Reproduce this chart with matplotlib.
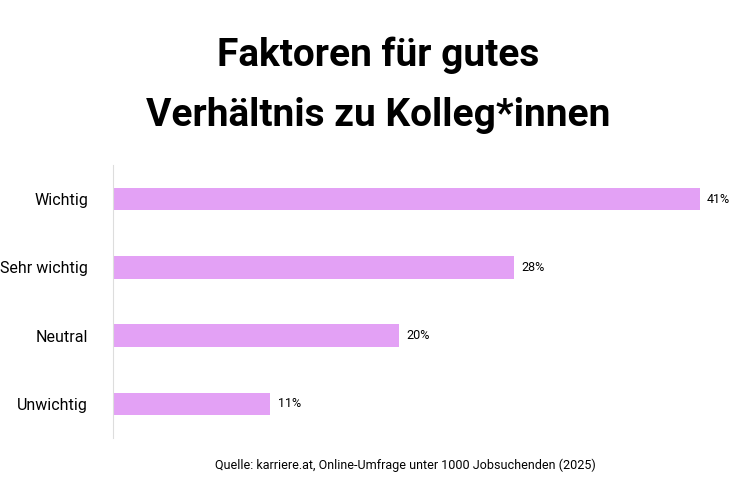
import matplotlib
matplotlib.use("Agg")
import matplotlib.pyplot as plt
from matplotlib import font_manager

names = {f.name for f in font_manager.fontManager.ttflist}
fam = "Liberation Sans Narrow" if "Liberation Sans Narrow" in names else "Roboto"

categories = ["Wichtig", "Sehr wichtig", "Neutral", "Unwichtig"]
values = [41, 28, 20, 11]
labels = ["41%", "28%", "20%", "11%"]

fig = plt.figure(figsize=(7.56, 4.98), dpi=100)
ax = fig.add_axes([113/756, 60/498, (700-113)/756, (438-165)/498])
y = list(range(len(categories)))
ax.barh(y, values, height=0.33, color="#e3a1f5")
ax.set_xlim(0, 41)
ax.set_ylim(3.5, -0.5)
ax.set_yticks(y)
ax.set_yticklabels(categories, fontfamily=fam, fontsize=11.5)
ax.tick_params(axis="y", length=0, pad=18)
ax.set_xticks([])
for s in ["top", "right", "bottom"]:
    ax.spines[s].set_visible(False)
ax.spines["left"].set_color("#dddddd")
for yi, v, l in zip(y, values, labels):
    ax.text(v + 0.5, yi, l, va="center", ha="left", fontfamily=fam, fontsize=9, clip_on=False)

fig.text(0.5, 1 - 55/498, "Faktoren für gutes", ha="center", va="center",
         fontfamily=fam, fontweight="bold", fontsize=28)
fig.text(0.5, 1 - 115/498, "Verhältnis zu Kolleg*innen", ha="center", va="center",
         fontfamily=fam, fontweight="bold", fontsize=28)
fig.text(405/756, 1 - 465/498, "Quelle: karriere.at, Online-Umfrage unter 1000 Jobsuchenden (2025)",
         ha="center", va="center", fontfamily=fam, fontsize=9)
fig.savefig("out.png", dpi=100)
